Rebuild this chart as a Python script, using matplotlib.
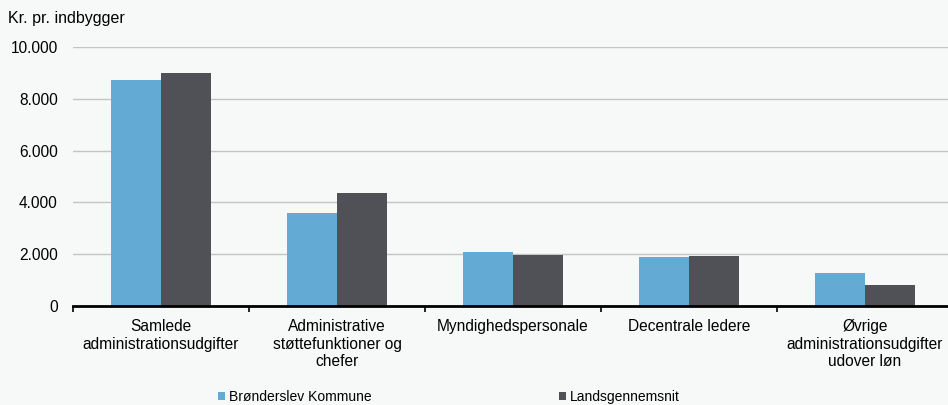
import matplotlib
matplotlib.use("Agg")
import matplotlib.pyplot as plt
import numpy as np
from matplotlib.ticker import FuncFormatter, FixedLocator

categories = ["Samlede\nadministrationsudgifter",
              "Administrative\nstøttefunktioner og\nchefer",
              "Myndighedspersonale",
              "Decentrale ledere",
              "Øvrige\nadministrationsudgifter\nudover løn"]
series_names = ["Brønderslev Kommune", "Landsgennemsnit"]
bronderslev = [8720, 3580, 2070, 1880, 1270]
lands = [8990, 4380, 1960, 1920, 800]
yticks = [0, 2000, 4000, 6000, 8000, 10000]

plt.rcParams['font.family'] = ['Liberation Sans', 'DejaVu Sans']
bg = '#f7f8f8'
c_blue = '#63aad4'
c_dark = '#505157'

fig = plt.figure(figsize=(9.48, 4.05), dpi=100, facecolor=bg)
ax = fig.add_axes([73/948, 1-306/405, (948-73)/948, (306-47)/405])
ax.set_facecolor(bg)

x = np.arange(len(categories))
w = 0.284
ax.bar(x - w/2, bronderslev, w, color=c_blue, label=series_names[0], zorder=3)
ax.bar(x + w/2, lands, w, color=c_dark, label=series_names[1], zorder=3)

ax.set_ylim(0, 10000)
ax.set_xlim(-0.5, (948-73)/176 - 0.5)
ax.set_yticks(yticks)
ax.yaxis.set_major_formatter(FuncFormatter(lambda v, p: f"{int(v):,}".replace(",", ".")))
ax.tick_params(axis='y', length=0, pad=11, labelsize=11.2, colors='#000000')
ax.yaxis.grid(True, color='#c4c4c4', linewidth=1.0, zorder=0)

ax.xaxis.set_major_locator(FixedLocator(np.arange(-0.5, len(categories), 1.0)))
ax.xaxis.set_minor_locator(FixedLocator(x))
ax.set_xticklabels([], minor=False)
ax.set_xticklabels(categories, minor=True, fontsize=11.2, linespacing=1.22)
ax.tick_params(axis='x', which='major', length=4, width=1.2, color='#000000', direction='out')
ax.tick_params(axis='x', which='minor', length=0, pad=9.5)

for s in ['top', 'right', 'left']:
    ax.spines[s].set_visible(False)
ax.spines['bottom'].set_linewidth(2)
ax.spines['bottom'].set_color('#000000')
ax.spines['bottom'].set_zorder(4)

fig.text(8/948, 1-19/405, "Kr. pr. indbygger", fontsize=11.5, va='center', ha='left')

fig.legend(loc='center', bbox_to_anchor=(449/948, 1-397/405), ncol=2, frameon=False,
           fontsize=10, handlelength=0.5, handleheight=0.5, handletextpad=0.3,
           columnspacing=13.5, borderpad=0, borderaxespad=0)

fig.savefig("out.png", dpi=100, facecolor=bg)
